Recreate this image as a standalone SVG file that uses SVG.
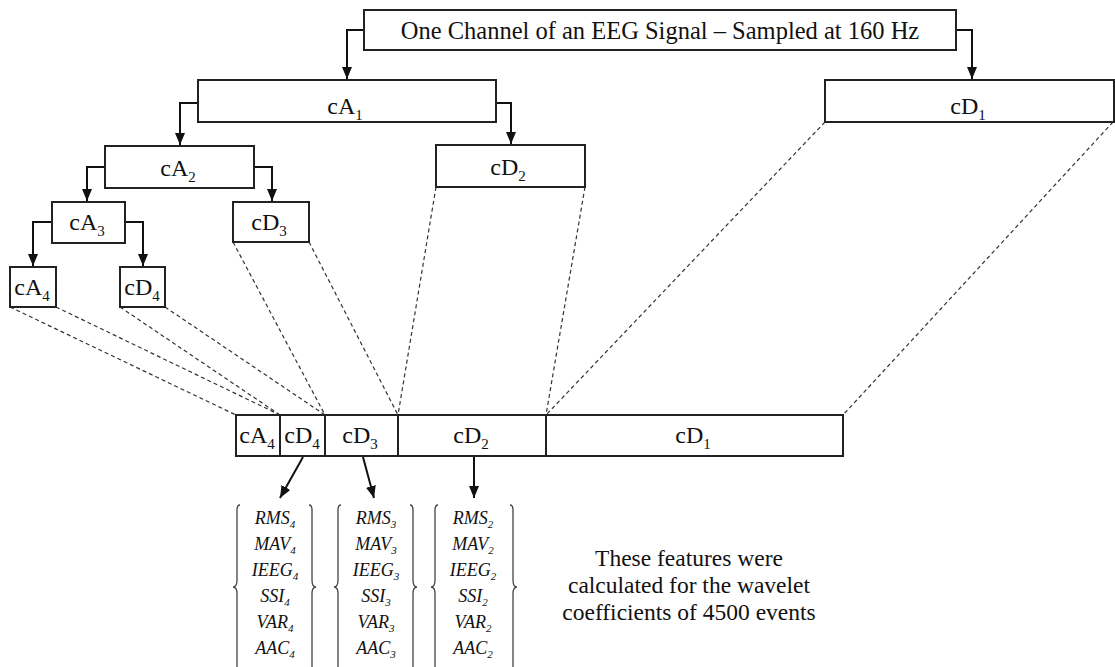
<svg xmlns="http://www.w3.org/2000/svg" width="1115" height="667" viewBox="0 0 1115 667">
<style>
.box{fill:#fff;stroke:#222;stroke-width:2}
.t{font-family:"Liberation Serif","Times New Roman",serif;font-size:24px;fill:#111;text-anchor:middle}
.top{font-size:24.5px}
.sub{font-size:15px}
.f{font-family:"Liberation Serif","Times New Roman",serif;font-size:18px;font-style:italic;fill:#111;text-anchor:middle}
.fs{font-size:11px}
.conn{fill:none;stroke:#111;stroke-width:2}
.dash{fill:none;stroke:#333;stroke-width:1.2;stroke-dasharray:4,3}
.brace{fill:none;stroke:#444;stroke-width:1.3}
.note{font-family:"Liberation Serif","Times New Roman",serif;font-size:23.5px;fill:#111;text-anchor:middle}
</style>
<defs>
<marker id="ah" viewBox="0 0 12 10" refX="12" refY="5" markerWidth="12" markerHeight="10" markerUnits="userSpaceOnUse" orient="auto">
<path d="M0,0 L12,5 L0,10 Z" fill="#111"/>
</marker>
</defs>

<g id="connectors">
<path class="conn" d="M364,30 H347 V79" marker-end="url(#ah)"/>
<path class="conn" d="M956,30 H972 V79" marker-end="url(#ah)"/>
<path class="conn" d="M198,103 H180 V145" marker-end="url(#ah)"/>
<path class="conn" d="M496,103 H511 V144" marker-end="url(#ah)"/>
<path class="conn" d="M105,167 H87 V201" marker-end="url(#ah)"/>
<path class="conn" d="M254,167 H272 V201" marker-end="url(#ah)"/>
<path class="conn" d="M52,222 H33 V266" marker-end="url(#ah)"/>
<path class="conn" d="M125,222 H143 V266" marker-end="url(#ah)"/>
<path class="conn" d="M303,457 L280,498" marker-end="url(#ah)"/>
<path class="conn" d="M363,457 L374,498" marker-end="url(#ah)"/>
<path class="conn" d="M474,457 V498" marker-end="url(#ah)"/>
<path class="dash" d="M10,307 L236,415"/>
<path class="dash" d="M56,307 L280,415"/>
<path class="dash" d="M120,307 L280,415"/>
<path class="dash" d="M165,307 L325,415"/>
<path class="dash" d="M233,242 L325,415"/>
<path class="dash" d="M309,242 L398,415"/>
<path class="dash" d="M436,187 L398,415"/>
<path class="dash" d="M585,187 L546,415"/>
<path class="dash" d="M825,122 L546,415"/>
<path class="dash" d="M1113,122 L843,415"/>
</g>

<g id="root">
<rect class="box" x="364" y="10" width="592" height="40"/>
<text class="t top" x="660" y="39">One Channel of an EEG Signal – Sampled at 160 Hz</text>
</g>
<g id="cA1">
<rect class="box" x="198" y="80" width="298" height="42"/>
<text class="t" x="345" y="114">cA<tspan class="sub" dy="6">1</tspan></text>
</g>
<g id="cD1">
<rect class="box" x="825" y="80" width="289" height="42"/>
<text class="t" x="968" y="114">cD<tspan class="sub" dy="6">1</tspan></text>
</g>
<g id="cA2">
<rect class="box" x="105" y="146" width="149" height="42"/>
<text class="t" x="178" y="176">cA<tspan class="sub" dy="6">2</tspan></text>
</g>
<g id="cD2">
<rect class="box" x="436" y="145" width="149" height="42"/>
<text class="t" x="508" y="175">cD<tspan class="sub" dy="6">2</tspan></text>
</g>
<g id="cA3">
<rect class="box" x="52" y="202" width="73" height="41"/>
<text class="t" x="87" y="230">cA<tspan class="sub" dy="6">3</tspan></text>
</g>
<g id="cD3">
<rect class="box" x="233" y="202" width="76" height="40"/>
<text class="t" x="269" y="230">cD<tspan class="sub" dy="6">3</tspan></text>
</g>
<g id="cA4">
<rect class="box" x="10" y="267" width="46" height="40"/>
<text class="t" x="32" y="295">cA<tspan class="sub" dy="6">4</tspan></text>
</g>
<g id="cD4">
<rect class="box" x="120" y="267" width="45" height="40"/>
<text class="t" x="142" y="295">cD<tspan class="sub" dy="6">4</tspan></text>
</g>

<g id="combined">
<rect class="box" x="236" y="415" width="607" height="41"/>
<line x1="280" y1="415" x2="280" y2="456" stroke="#222" stroke-width="2"/>
<line x1="325" y1="415" x2="325" y2="456" stroke="#222" stroke-width="2"/>
<line x1="398" y1="415" x2="398" y2="456" stroke="#222" stroke-width="2"/>
<line x1="546" y1="415" x2="546" y2="456" stroke="#222" stroke-width="2"/>
<text class="t" x="257" y="443">cA<tspan class="sub" dy="6">4</tspan></text>
<text class="t" x="302" y="443">cD<tspan class="sub" dy="6">4</tspan></text>
<text class="t" x="360" y="443">cD<tspan class="sub" dy="6">3</tspan></text>
<text class="t" x="471" y="443">cD<tspan class="sub" dy="6">2</tspan></text>
<text class="t" x="693" y="443">cD<tspan class="sub" dy="6">1</tspan></text>
</g>

<g id="features4">
<path class="brace" d="M240,505 Q237,505 237,510 V580 Q237,587 233,587 Q237,587 237,594 V667"/>
<path class="brace" d="M309,505 Q312,505 312,510 V580 Q312,587 316,587 Q312,587 312,594 V667"/>
<text class="f" x="275" y="524">RMS<tspan class="fs" dy="4">4</tspan></text>
<text class="f" x="275" y="550">MAV<tspan class="fs" dy="4">4</tspan></text>
<text class="f" x="275" y="576">IEEG<tspan class="fs" dy="4">4</tspan></text>
<text class="f" x="275" y="602">SSI<tspan class="fs" dy="4">4</tspan></text>
<text class="f" x="275" y="628">VAR<tspan class="fs" dy="4">4</tspan></text>
<text class="f" x="275" y="654">AAC<tspan class="fs" dy="4">4</tspan></text>
</g>
<g id="features3">
<path class="brace" d="M341,505 Q338,505 338,510 V580 Q338,587 334,587 Q338,587 338,594 V667"/>
<path class="brace" d="M410,505 Q413,505 413,510 V580 Q413,587 417,587 Q413,587 413,594 V667"/>
<text class="f" x="376" y="524">RMS<tspan class="fs" dy="4">3</tspan></text>
<text class="f" x="376" y="550">MAV<tspan class="fs" dy="4">3</tspan></text>
<text class="f" x="376" y="576">IEEG<tspan class="fs" dy="4">3</tspan></text>
<text class="f" x="376" y="602">SSI<tspan class="fs" dy="4">3</tspan></text>
<text class="f" x="376" y="628">VAR<tspan class="fs" dy="4">3</tspan></text>
<text class="f" x="376" y="654">AAC<tspan class="fs" dy="4">3</tspan></text>
</g>
<g id="features2">
<path class="brace" d="M438,505 Q435,505 435,510 V580 Q435,587 431,587 Q435,587 435,594 V667"/>
<path class="brace" d="M510,505 Q513,505 513,510 V580 Q513,587 517,587 Q513,587 513,594 V667"/>
<text class="f" x="473" y="524">RMS<tspan class="fs" dy="4">2</tspan></text>
<text class="f" x="473" y="550">MAV<tspan class="fs" dy="4">2</tspan></text>
<text class="f" x="473" y="576">IEEG<tspan class="fs" dy="4">2</tspan></text>
<text class="f" x="473" y="602">SSI<tspan class="fs" dy="4">2</tspan></text>
<text class="f" x="473" y="628">VAR<tspan class="fs" dy="4">2</tspan></text>
<text class="f" x="473" y="654">AAC<tspan class="fs" dy="4">2</tspan></text>
</g>

<g id="note">
<text class="note" x="689" y="566">These features were</text>
<text class="note" x="689" y="593">calculated for the wavelet</text>
<text class="note" x="689" y="620">coefficients of 4500 events</text>
</g>
</svg>
